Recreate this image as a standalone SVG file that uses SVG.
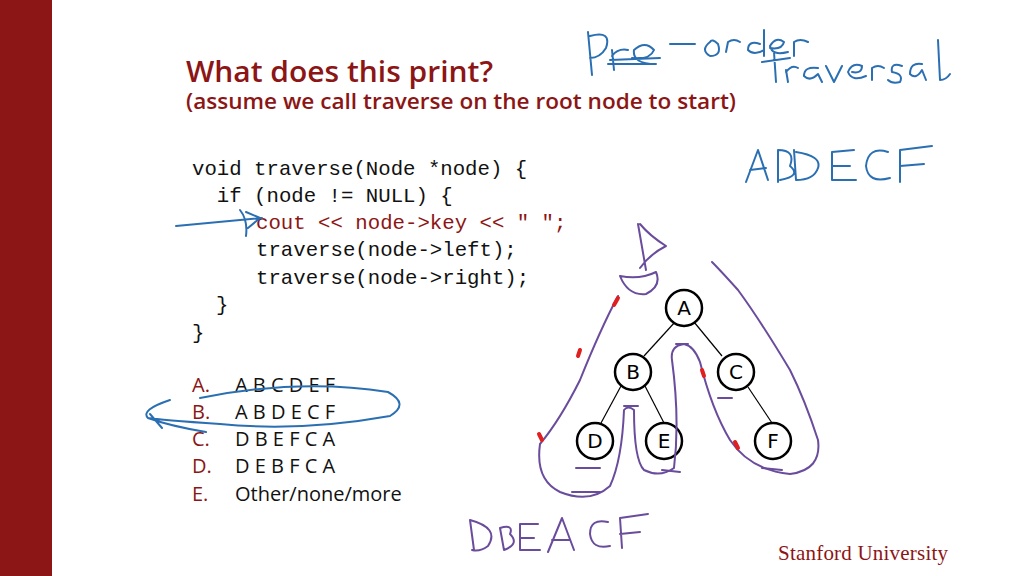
<svg xmlns="http://www.w3.org/2000/svg" width="1024" height="576" viewBox="0 0 1024 576">
<style>
.code{font-family:"Liberation Mono","DejaVu Sans Mono",monospace;font-size:20.7px;fill:#111}
.opt{font-family:"Open Sans","Noto Sans",sans-serif;font-size:20px;fill:#111}
.lab{font-family:"Open Sans","Noto Sans",sans-serif;font-size:20px;fill:#8c1515}
.node circle{fill:#fff;stroke:#000;stroke-width:2.5}
.node text{font-family:"DejaVu Sans",sans-serif;font-size:20px;text-anchor:middle;fill:#000}
.ink{fill:none;stroke-linecap:round;stroke-linejoin:round}
.blue{stroke:#2b6fb3;stroke-width:2}
.purple{stroke:#6a4c9c;stroke-width:2}
.red{stroke:#e02020;stroke-width:4}
</style>
<rect width="1024" height="576" fill="#fff"/>
<rect x="0" y="0" width="52" height="576" fill="#8c1515"/>
<text x="186" y="82" font-family="Open Sans,Noto Sans,sans-serif" font-weight="600" font-size="28" fill="#8c1515" textLength="307" lengthAdjust="spacingAndGlyphs">What does this print?</text>
<text x="186" y="109" font-family="Open Sans,Noto Sans,sans-serif" font-weight="600" font-size="21" fill="#8c1515" textLength="550" lengthAdjust="spacingAndGlyphs">(assume we call traverse on the root node to start)</text>
<text class="code" x="192" y="175">void traverse(Node *node) {</text>
<text class="code" x="192" y="202" xml:space="preserve">  if (node != NULL) {</text>
<text class="code" x="256" y="229" style="fill:#8c1515">cout &lt;&lt; node-&gt;key &lt;&lt; " ";</text>
<text class="code" x="256" y="256">traverse(node-&gt;left);</text>
<text class="code" x="256" y="284">traverse(node-&gt;right);</text>
<text class="code" x="216" y="311">}</text>
<text class="code" x="192" y="339">}</text>
<text class="lab" x="192" y="392">A.</text><text class="opt" x="235" y="392">A B C D E F</text>
<text class="lab" x="192" y="419">B.</text><text class="opt" x="235" y="419">A B D E C F</text>
<text class="lab" x="192" y="446">C.</text><text class="opt" x="235" y="446">D B E F C A</text>
<text class="lab" x="192" y="473">D.</text><text class="opt" x="235" y="473">D E B F C A</text>
<text class="lab" x="192" y="501">E.</text><text class="opt" x="235" y="501">Other/none/more</text>
<text x="778" y="560" font-family="Liberation Serif,serif" font-size="21" fill="#8c1515" textLength="170">Stanford University</text>
<g id="connectors" stroke="#000" stroke-width="1.2">
<line x1="675" y1="322" x2="644" y2="356"/>
<line x1="694" y1="322" x2="722" y2="356"/>
<line x1="621" y1="386" x2="601" y2="423"/>
<line x1="645" y1="386" x2="664" y2="423"/>
<line x1="748" y1="387" x2="772" y2="423"/>
</g>
<g id="node-A" class="node"><circle cx="684" cy="308" r="18"/><text x="684" y="315">A</text></g>
<g id="node-B" class="node"><circle cx="633" cy="372" r="18"/><text x="633" y="379">B</text></g>
<g id="node-C" class="node"><circle cx="736" cy="372" r="18"/><text x="736" y="379">C</text></g>
<g id="node-D" class="node"><circle cx="595" cy="441" r="18"/><text x="595" y="448">D</text></g>
<g id="node-E" class="node"><circle cx="664" cy="441" r="18"/><text x="664" y="448">E</text></g>
<g id="node-F" class="node"><circle cx="773" cy="441" r="18"/><text x="773" y="448">F</text></g>
<g id="ink">
<path class="ink blue" d="M588 32 L592 75 M590 36 Q612 30 606 48 Q600 58 590 58 M612 50 L614 70 M612 56 Q618 48 628 50 M632 58 Q650 60 654 50 Q645 40 634 50 Q632 64 656 64 M610 60 L660 58 M608 64 L656 64 M670 44 L695 44 M710 42 Q700 50 710 56 Q722 56 718 44 Q712 38 710 42 M726 52 L728 42 Q734 38 740 42 M760 44 Q748 40 748 50 Q754 56 764 50 L764 30 L764 56 M770 48 Q782 50 784 42 Q776 36 770 46 Q772 56 788 52 M794 56 L794 42 Q800 38 808 42 M762 62 L790 58 M774 52 L776 82 M786 70 L788 82 M786 72 Q792 64 798 68 M818 68 Q804 66 804 76 Q810 82 818 74 L822 82 M826 66 L834 82 L842 66 M852 72 Q862 74 862 66 Q852 62 848 72 Q852 82 866 76 M872 80 L872 68 Q878 64 884 68 M902 66 Q890 62 892 72 Q904 74 900 82 Q892 84 888 80 M922 64 Q910 62 910 74 Q916 80 922 70 L926 80 M938 40 L940 80 Q946 80 950 74"/>
<path class="ink blue" d="M746 182 L758 150 L768 180 M750 170 L766 168 M778 150 L778 182 M778 150 Q796 150 790 166 Q802 176 780 180 M794 150 L796 180 M796 152 Q822 156 818 168 Q814 180 796 180 M854 150 L832 152 L832 180 L856 180 M832 166 L850 166 M888 152 Q868 146 866 166 Q868 184 890 178 M900 182 L900 150 L932 146 M900 166 L924 164"/>
<path class="ink purple" d="M470 520 L474 550 M470 520 Q500 528 488 546 Q480 552 472 550 M500 528 Q514 524 510 534 Q520 544 504 550 L500 528 M538 524 L520 524 L520 550 L540 550 M520 538 L534 538 M548 552 L562 518 L574 550 M552 540 L570 540 M608 522 Q590 518 590 534 Q592 550 610 546 M622 548 L620 518 L648 514 M620 534 L640 532"/>
<path class="ink blue" d="M176 226 Q220 222 262 218 M246 212 L260 218 L248 228 M240 210 Q248 220 246 236"/>
<path class="ink blue" d="M200 398 Q300 378 388 392 Q410 404 390 416 Q300 432 220 424 Q160 420 148 418 Q140 410 170 400 M148 418 Q170 426 206 432 M150 414 L162 428"/>
<path class="ink purple" d="M638 224 L646 270 M640 224 Q650 236 666 246 Q650 254 640 268 M620 276 Q628 296 646 294 Q662 286 656 272 Q640 280 620 276 M618 296 Q600 330 580 380 Q560 420 540 444 Q535 480 560 492 Q590 504 610 486 Q622 460 624 410 Q628 405 634 410 Q634 460 644 470 Q660 478 674 468 Q680 420 672 360 Q670 346 684 344 Q694 346 700 362 Q712 410 730 440 Q750 470 790 474 Q822 470 818 440 Q805 400 790 370 Q760 320 738 290 Q720 270 712 262"/>
<g class="ink red">
<path d="M614 305 L618 298 M578 356 L580 350 M539 434 L542 440"/>
<path d="M702 370 L704 376 M735 442 L738 448"/>
</g>
<g class="ink purple" stroke-width="4">
<path d="M576 468 L600 468 M572 492 L600 492 M624 406 L638 406 M662 470 L680 472 M676 344 L688 344 M718 398 L732 398 M762 468 L782 470"/>
</g>
</g>
</svg>
